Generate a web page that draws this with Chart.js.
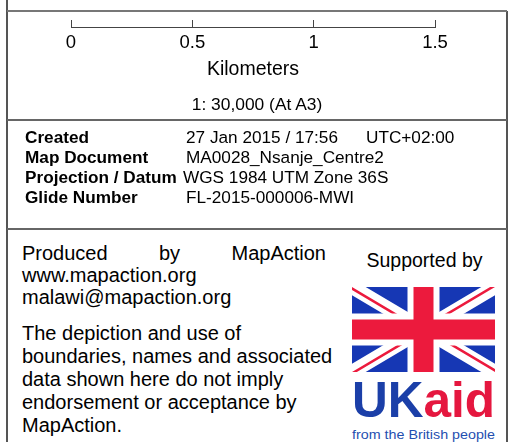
<!DOCTYPE html>
<html>
<head>
<meta charset="utf-8">
<script src="https://cdn.jsdelivr.net/npm/chart.js@4.4.1/dist/chart.umd.min.js"></script>
<style>
  html, body { margin: 0; padding: 0; background: #fff; }
  body { width: 512px; height: 442px; position: relative; overflow: hidden;
         font-family: "Liberation Sans", Arial, sans-serif; color: #000; }
  .abs { position: absolute; white-space: nowrap; }
  .line { position: absolute; background: #555; }
  #scaleBar { position: absolute; left: 0; top: 0; }
  .info { font-size: 17.2px; line-height: 20px; }
  .info b { position: absolute; left: 25px; }
  .info span { position: absolute; left: 186px; }
  .para { font-size: 20px; }
</style>
</head>
<body>
<canvas id="scaleBar" width="512" height="81"></canvas>

<div class="line" style="left:6px; top:0; width:2px; height:442px;"></div>
<div class="line" style="left:506px; top:11px; width:2px; height:431px;"></div>
<div class="line" style="left:7px; top:10px; width:500px; height:2px; background:#777;"></div>
<div class="line" style="left:7px; top:119px; width:500px; height:2px; background:#666;"></div>
<div class="line" style="left:7px; top:228px; width:500px; height:2px; background:#666;"></div>

<div class="abs" style="left:7px; width:500px; top:93px; text-align:center; font-size:17.4px; line-height:22px;">1: 30,000 (At A3)</div>

<div class="abs info" style="left:0; top:127px; width:500px;">
  <div style="position:relative;height:20px;"><b>Created</b><span>27 Jan 2015 / 17:56</span><span style="left:366px">UTC+02:00</span></div>
  <div style="position:relative;height:20px;"><b>Map Document</b><span>MA0028_Nsanje_Centre2</span></div>
  <div style="position:relative;height:20px;"><b>Projection / Datum</b><span style="left:183px">WGS 1984 UTM Zone 36S</span></div>
  <div style="position:relative;height:20px;"><b>Glide Number</b><span>FL-2015-000006-MWI</span></div>
</div>

<div class="abs para" style="left:22px; top:242px; width:304px; line-height:22px;">
  <div style="display:flex; justify-content:space-between;"><span>Produced</span><span>by</span><span>MapAction</span></div>
  <div>www.mapaction.org</div>
  <div>malawi@mapaction.org</div>
</div>
<div class="abs para" style="left:22px; top:322px; line-height:23px;">
  The depiction and use of<br>boundaries, names and associated<br>data shown here do not imply<br>endorsement or acceptance by<br>MapAction.
</div>

<div class="abs" style="left:352px; width:145px; top:248px; text-align:center; font-size:19.5px; line-height:24px;">Supported by</div>

<svg class="abs" style="left:352px; top:287px;" width="143" height="85" viewBox="0 0 143 85">
  <defs>
    <clipPath id="t"><path d="M71.5,42.5 h71.5 v42.5 z v42.5 h-71.5 z h-71.5 v-42.5 z v-42.5 h71.5 z"/></clipPath>
  </defs>
  <rect width="143" height="85" fill="#1637b4"/>
  <path d="M0,0 L143,85 M143,0 L0,85" stroke="#fff" stroke-width="14"/>
  <path d="M0,0 L143,85 M143,0 L0,85" stroke="#ec1a3d" stroke-width="5" clip-path="url(#t)"/>
  <path d="M71.5,0 v85 M0,42.5 h143" stroke="#fff" stroke-width="32"/>
  <path d="M71.5,0 v85 M0,42.5 h143" stroke="#ec1a3d" stroke-width="20"/>
</svg>

<svg class="abs" style="left:350px; top:372px;" width="152" height="70">
  <text x="2" y="45" font-family="Liberation Sans, Arial, sans-serif" font-weight="bold" font-size="50"
        textLength="143" lengthAdjust="spacingAndGlyphs"><tspan fill="#1b3fa8">UK</tspan><tspan fill="#e5173f">aid</tspan></text>
  <text x="2" y="67" font-family="Liberation Sans, Arial, sans-serif" font-size="13.5" fill="#1f4fb0"
        textLength="143" lengthAdjust="spacingAndGlyphs">from the British people</text>
</svg>

<script>
const font = '"Liberation Sans", Arial, sans-serif';

// scale bar: distances in km
const kmTicks = [0, 0.5, 1, 1.5];
const kmLabels = ['0', '0.5', '1', '1.5'];
const unitLabel = 'Kilometers';

const ctx = document.getElementById('scaleBar').getContext('2d');
new Chart(ctx, {
  type: 'scatter',
  data: { datasets: [{ data: [] }] },
  options: {
    responsive: false,
    animation: false,
    layout: { padding: { left: 71, right: 77, top: 20, bottom: 0 } },
    plugins: { legend: { display: false }, tooltip: { enabled: false } },
    scales: {
      x: {
        type: 'linear',
        min: kmTicks[0],
        max: kmTicks[kmTicks.length - 1],
        afterBuildTicks: s => { s.ticks = kmTicks.map(v => ({ value: v })); },
        grid: { color: '#444', lineWidth: 1, drawTicks: false, drawOnChartArea: true },
        border: { color: '#444', width: 1 },
        ticks: {
          color: '#000', padding: 5, maxRotation: 0, autoSkip: false,
          font: { family: font, size: 18.5 },
          callback: (v, i) => kmLabels[i]
        }
      },
      // second axis only carries the unit name under the labels
      x2: {
        type: 'linear',
        position: 'bottom',
        min: kmTicks[0],
        max: kmTicks[kmTicks.length - 1],
        grid: { display: false, drawTicks: false },
        border: { display: false },
        ticks: { display: false },
        title: {
          display: true, text: unitLabel, color: '#000',
          font: { family: font, size: 19.5 },
          padding: { top: 0, bottom: 0 }
        }
      },
      y: { display: false, min: 0, max: 1 }
    }
  }
});
</script>
</body>
</html>
